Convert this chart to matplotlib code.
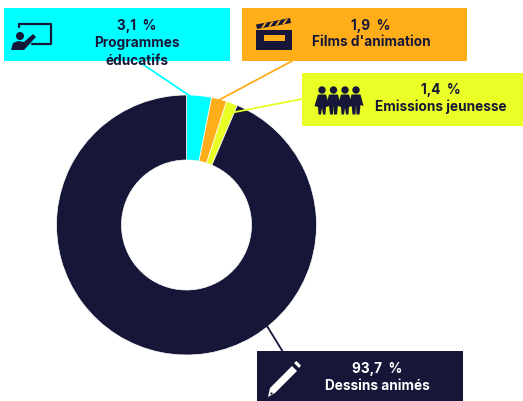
import matplotlib
matplotlib.use('Agg')
import matplotlib.pyplot as plt
from matplotlib.patches import Circle, Polygon, Rectangle

categories = ['Programmes\néducatifs', "Films d'animation", 'Emissions jeunesse', 'Dessins animés']
percents = [3.1, 1.9, 1.4, 93.7]
percent_labels = ['3,1  %', '1,9  %', '1,4  %', '93,7  %']
colors = ['#00FFFF', '#FFAE1A', '#E9FF25', '#161738']
text_colors = ['#161738', '#161738', '#161738', '#FFFFFF']

DARK = '#161738'

plt.rcParams['font.family'] = ['Inter', 'DejaVu Sans']

fig = plt.figure(figsize=(5.23, 4.01), dpi=100)
ax = fig.add_axes([0, 0, 1, 1])

# y axis gets flipped below, so counterclock=True turns clockwise on screen
ax.pie(percents, colors=colors, center=(186.5, 225), radius=130, startangle=-90,
       counterclock=True, wedgeprops={'width': 65, 'edgecolor': 'white', 'linewidth': 0.5})
ax.set_xlim(0, 523)
ax.set_ylim(401, 0)
ax.axis('off')

# leader lines
ax.plot([138, 190], [61, 96], color=colors[0], lw=1.3, zorder=2)
ax.plot([292, 219], [61, 100], color=colors[1], lw=1.3, zorder=2)
ax.plot([302, 225], [99, 114], color=colors[2], lw=1.3, zorder=2)
ax.plot([267, 283], [326, 352], color=colors[3], lw=1.3, zorder=2)

# label boxes: x, y, width, height, text centre x, first line y
boxes = [(4, 8, 226, 53, 137, 26),
         (242, 8, 225, 53, 371, 26),
         (302, 73, 221, 53, 441, 90),
         (257, 351, 206, 50, 377, 369)]
for i, (x, y, w, h, tx, ty) in enumerate(boxes):
    ax.add_patch(Rectangle((x, y), w, h, color=colors[i], lw=0, zorder=3))
    ax.text(tx, ty, percent_labels[i], color=text_colors[i], ha='center', va='center',
            fontsize=9.8, fontweight='bold', zorder=5)
    two_lines = '\n' in categories[i]
    ax.text(tx, ty + (10 if two_lines else 16.5), categories[i], color=text_colors[i], ha='center',
            va='top' if two_lines else 'center', fontsize=9.8, fontweight='bold', zorder=5, linespacing=1.35)

# board icon
ax.plot([19, 19, 51, 51, 32], [27, 23.5, 23.5, 44, 44], color=DARK, lw=1.6, zorder=4, solid_capstyle='round')
ax.add_patch(Circle((20, 36), 4, color=DARK, lw=0, zorder=4))
ax.add_patch(Polygon([(11, 50), (13, 43), (18, 41), (24, 42), (33, 34), (36, 37), (25, 49), (24, 50)],
                     color=DARK, lw=0, zorder=4))

# clapper icon
ax.add_patch(Rectangle((256, 30), 36, 20, color=DARK, lw=0, zorder=4))
ax.add_patch(Rectangle((264, 35), 21, 5.5, color=colors[1], lw=0, zorder=4))
ax.add_patch(Polygon([(256, 24.5), (290, 18), (291, 23), (257, 29)], color=DARK, lw=0, zorder=4))
for k in range(4):
    sx = 261 + k * 7
    ax.add_patch(Polygon([(sx, 28 - 1.2 * k), (sx + 2.5, 27.5 - 1.2 * k), (sx + 6, 22.5 - 1.2 * k), (sx + 3.5, 23 - 1.2 * k)],
                         color=colors[1], lw=0, zorder=4))

# children icon, dresses and trousers in turn
for k, px in enumerate([322, 333.5, 345, 356]):
    ax.add_patch(Circle((px, 90), 3.7, color=DARK, lw=0, zorder=4))
    if k % 2 == 0:
        ax.add_patch(Polygon([(px - 4, 94.5), (px + 4, 94.5), (px + 7.5, 106), (px + 4, 107), (px + 3.5, 114.5), (px + 1, 114.5),
                              (px, 108), (px - 1, 114.5), (px - 3.5, 114.5), (px - 4, 107), (px - 7.5, 106)],
                             color=DARK, lw=0, zorder=4))
    else:
        ax.add_patch(Polygon([(px - 4.5, 94.5), (px + 4.5, 94.5), (px + 7.5, 106), (px + 4.5, 105), (px + 3.5, 114.5), (px + 0.5, 114.5),
                              (px, 105), (px - 0.5, 114.5), (px - 3.5, 114.5), (px - 4.5, 105), (px - 7.5, 106)],
                             color=DARK, lw=0, zorder=4))

# pencil icon
ax.add_patch(Polygon([(268, 397), (270, 388), (292, 366), (297, 371), (275, 393)], color='white', lw=0, zorder=4))
ax.add_patch(Polygon([(294, 363), (296.5, 361), (301, 365.5), (299, 368)], color='white', lw=0, zorder=4))
ax.add_patch(Circle((271.5, 393.5), 1.1, color=DARK, lw=0, zorder=4))

fig.savefig('out.png', dpi=100)
